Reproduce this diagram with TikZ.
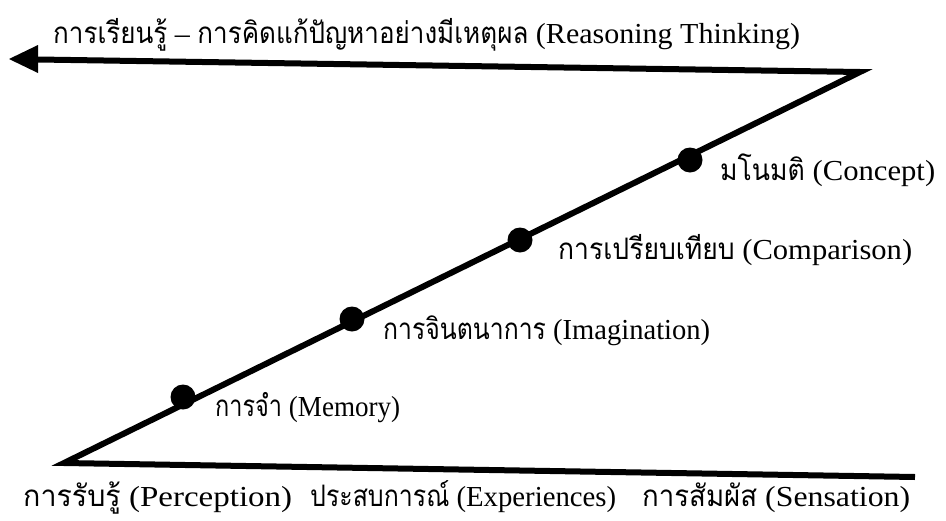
\documentclass[tikz,border=0pt]{standalone}
\usepackage{fontspec}
\usepackage{graphicx}
\setmainfont{Liberation Serif}
\newfontfamily\thaifont[Script=Thai,Scale=1.02,FakeStretch=0.85]{Loma}
\newcommand{\thtxt}[1]{{\thaifont #1}}
\newsavebox{\fitbox}
\newlength{\fitlen}
\newcommand{\fitw}[2]{\sbox{\fitbox}{#2}\setlength{\fitlen}{\wd\fitbox}%
  \pgfmathsetmacro{\fitratio}{#1/\fitlen}\scalebox{\fitratio}[1]{\usebox{\fitbox}}}
\usetikzlibrary{arrows.meta}
\tikzset{
  zline/.style={line width=6pt, line join=miter, miter limit=10},
  dotnode/.style={circle, fill=black, inner sep=0pt, minimum size=25pt},
  lbl/.style={anchor=base west, inner sep=0pt, font=\fontsize{29}{33}\selectfont},
}
\begin{document}
\begin{tikzpicture}[x=1pt,y=-1pt]
\useasboundingbox (0,0) rectangle (946,520);
% Z-shaped path
\coordinate (br) at (915,477);
\coordinate (bl) at (64,463);
\coordinate (tr) at (860,72);
\coordinate (tl) at (9,59);
\coordinate (tlb) at (38,59.5);
\draw[zline] (br) -- (bl) -- (tr) -- (tlb);
\fill (tl) -- (38,45) -- (38,73) -- cycle;
% dots on the diagonal
\node[dotnode] (memory) at (183,397) {};
\node[dotnode] (imag) at (352,319) {};
\node[dotnode] (comp) at (520,240) {};
\node[dotnode] (concept) at (690,160) {};
% labels
\node[lbl] (ltop) at (53,43) {\fitw{747}{\thtxt{การเรียนรู้} – \thtxt{การคิดแก้ปัญหาอย่างมีเหตุผล} (Reasoning Thinking)}};
\node[lbl] (lconcept) at (720,180) {\fitw{215}{\thtxt{มโนมติ} (Concept)}};
\node[lbl] (lcomp) at (558,259) {\fitw{354}{\thtxt{การเปรียบเทียบ} (Comparison)}};
\node[lbl] (limag) at (383,339) {\fitw{327}{\thtxt{การจินตนาการ} (Imagination)}};
\node[lbl] (lmem) at (215,416) {\fitw{185}{\thtxt{การจำ} (Memory)}};
\node[lbl] (lperc) at (23,506) {\fitw{269}{\thtxt{การรับรู้} (Perception)}};
\node[lbl] (lexp) at (310,506) {\fitw{306}{\thtxt{ประสบการณ์} (Experiences)}};
\node[lbl] (lsens) at (642,506) {\fitw{268}{\thtxt{การสัมผัส} (Sensation)}};
\end{tikzpicture}
\end{document}
